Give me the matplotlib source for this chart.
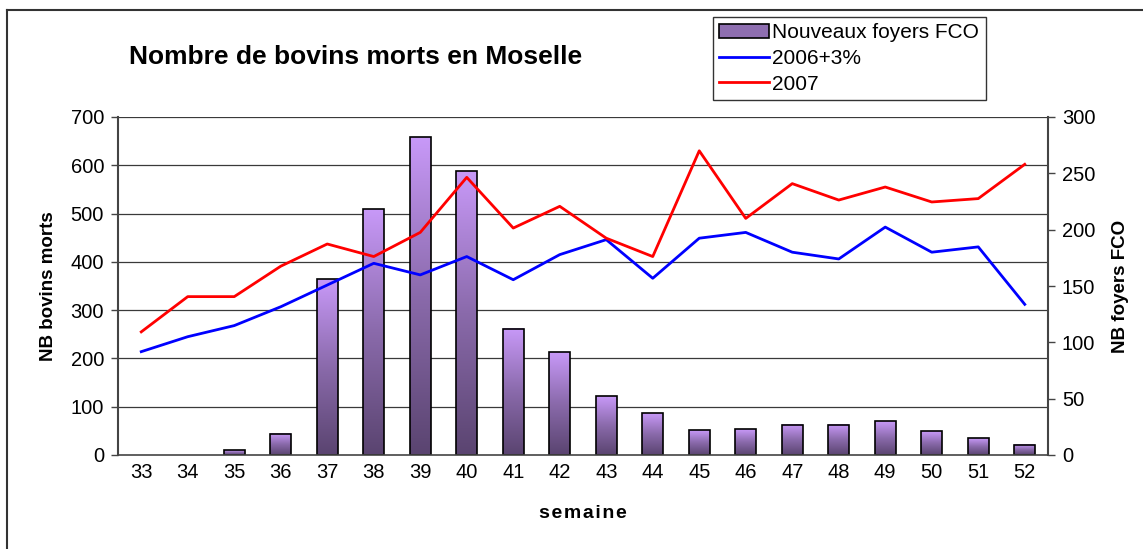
import numpy as np
import matplotlib
matplotlib.use("Agg")
import matplotlib.pyplot as plt
from matplotlib.colors import LinearSegmentedColormap
from matplotlib.patches import Rectangle, Patch
from matplotlib.lines import Line2D

plt.rcParams['font.family'] = ['Liberation Sans', 'DejaVu Sans']

semaines = [33, 34, 35, 36, 37, 38, 39, 40, 41, 42, 43, 44, 45, 46, 47, 48, 49, 50, 51, 52]
foyers_fco = [0, 0, 4, 19, 156, 218, 282, 252, 112, 91, 52, 37, 22, 23, 27, 27, 30, 21, 15, 9]
morts_2006 = [214, 245, 268, 307, 352, 397, 373, 411, 363, 415, 446, 366, 449, 461, 420, 406, 472, 420, 431, 312]
morts_2007 = [255, 328, 328, 391, 437, 411, 461, 575, 470, 515, 449, 411, 630, 490, 562, 528, 555, 524, 531, 602]
left_ticks = [0, 100, 200, 300, 400, 500, 600, 700]
right_ticks = [0, 50, 100, 150, 200, 250, 300]

W, H = 1143, 549
fig = plt.figure(figsize=(W / 100, H / 100), dpi=100)
ax = fig.add_axes([118 / W, 1 - 455 / H, (1048 - 118) / W, (455 - 117) / H])
ax2 = ax.twinx()
ax.set_zorder(ax2.get_zorder() + 1)
ax.patch.set_visible(False)

x = np.arange(len(semaines))
ratio = right_ticks[-1] / left_ticks[-1]

# gridlines behind bars
for t in left_ticks[1:]:
    ax2.axhline(t * ratio, color='#3a3a3a', lw=0.9, zorder=0)

# gradient bars on the right axis
cmap = LinearSegmentedColormap.from_list('fco', ['#5a4470', '#8a6aab', '#c899f8'])
grad = np.linspace(0, 1, 256).reshape(-1, 1)
bw = 0.45
for xi, v in zip(x, foyers_fco):
    if v <= 0:
        continue
    ax2.imshow(grad, extent=[xi - bw / 2, xi + bw / 2, 0, v], origin='lower',
               cmap=cmap, aspect='auto', zorder=2, interpolation='bilinear')
    ax2.add_patch(Rectangle((xi - bw / 2, 0), bw, v, fill=False,
                            edgecolor='black', lw=1.2, zorder=3))

ax.plot(x, morts_2006, color='#0000ff', lw=2.0, zorder=4)
ax.plot(x, morts_2007, color='#ff0000', lw=2.0, zorder=4)

ax.set_xlim(-0.5, len(semaines) - 0.5)
ax.set_ylim(left_ticks[0], left_ticks[-1])
ax2.set_ylim(right_ticks[0], right_ticks[-1])
ax2.set_xlim(-0.5, len(semaines) - 0.5)

ax.set_yticks(left_ticks)
ax2.set_yticks(right_ticks)
ax.set_xticks(np.arange(-0.5, len(semaines), 1.0))
ax.set_xticklabels([])
ax.set_xticks(x, minor=True)
ax.set_xticklabels([str(s) for s in semaines], minor=True)
ax.tick_params(axis='x', which='major', length=6, width=1, color='#444444', direction='out')
ax.tick_params(axis='x', which='minor', length=0, pad=6, labelsize=14.5)
ax.tick_params(axis='y', length=5, width=1, color='#444444', labelsize=14.5, pad=5)
ax2.tick_params(axis='y', length=5, width=1, color='#444444', labelsize=14.5, pad=5)
ax2.set_xticks([])

for a in (ax, ax2):
    for s in a.spines.values():
        s.set_visible(False)
ax.spines['left'].set_visible(True)
ax.spines['left'].set_color('#444444')
ax.spines['left'].set_linewidth(1.5)
ax.spines['bottom'].set_visible(True)
ax.spines['bottom'].set_color('#444444')
ax.spines['bottom'].set_linewidth(1.2)
ax2.spines['right'].set_visible(True)
ax2.spines['right'].set_color('#444444')
ax2.spines['right'].set_linewidth(1.5)

ax.set_ylabel('NB bovins morts', fontsize=13.5, fontweight='bold', labelpad=10)
ax2.set_ylabel('NB foyers FCO', fontsize=13.5, fontweight='bold', labelpad=12)
ax.set_xlabel('s e m a i n e'.replace(' ', '\u200a'), fontsize=14, fontweight='bold', labelpad=16)

fig.text(356 / W, 1 - 57 / H, 'Nombre de bovins morts en Moselle', fontsize=19,
         fontweight='bold', ha='center', va='center')

handles = [Patch(facecolor='#8e6eb0', edgecolor='black', lw=1.2),
           Line2D([], [], color='#0000ff', lw=2),
           Line2D([], [], color='#ff0000', lw=2)]
leg = fig.legend(handles, ['Nouveaux foyers FCO', '2006+3%', '2007'],
                 loc='upper left', bbox_to_anchor=(713 / W, 1 - 17 / H),
                 fontsize=15, frameon=True, fancybox=False, borderpad=0.3,
                 labelspacing=0.32, handlelength=2.4, handletextpad=0.15,
                 borderaxespad=0)
leg.get_frame().set_edgecolor('black')
leg.get_frame().set_linewidth(1.0)

# outer frame (top and left edges visible)
fig.add_artist(Line2D([7 / W, 1], [1 - 10 / H, 1 - 10 / H], color='#333333', lw=1.5))
fig.add_artist(Line2D([7 / W, 7 / W], [0, 1 - 10 / H], color='#333333', lw=1.5))

fig.savefig('out.png', dpi=100)
